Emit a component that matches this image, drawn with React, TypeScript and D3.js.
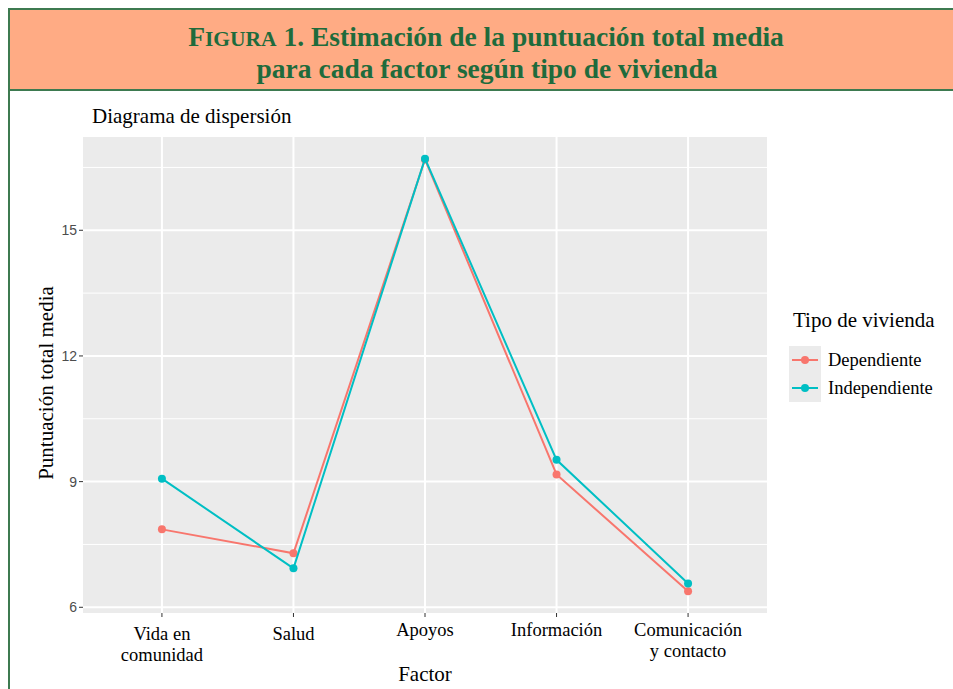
import React from "react";
import * as d3 from "d3";

const categories = ["Vida en comunidad", "Salud", "Apoyos", "Información", "Comunicación y contacto"];
// tick labels as they are broken over lines in the picture
const tickLines = [["Vida en", "comunidad"], ["Salud"], ["Apoyos"], ["Información"], ["Comunicación", "y contacto"]];
const dependiente = [7.86, 7.29, 16.69, 9.17, 6.38];
const independiente = [9.07, 6.93, 16.71, 9.52, 6.57];
const yTicks = [6, 9, 12, 15];
const yMinor = [7.5, 10.5, 13.5, 16.5];

const series = [
  { name: "Dependiente", values: dependiente, color: "#F8766D" },
  { name: "Independiente", values: independiente, color: "#00BFC4" },
];

const W = 953;
const H = 689;
const panel = { left: 83, right: 767, top: 137, bottom: 613 };
const serif = "'Liberation Serif', 'DejaVu Serif', serif";
const sans = "'Liberation Sans', Arial, sans-serif";
const green = "#1f6b3c";

export default function App() {
  const all = [...dependiente, ...independiente];
  const lo = d3.min(all)!;
  const hi = d3.max(all)!;
  const pad = (hi - lo) * 0.05;

  const x = d3
    .scalePoint<string>()
    .domain(categories)
    .range([panel.left, panel.right])
    .padding(0.6);

  const y = d3
    .scaleLinear()
    .domain([lo - pad, hi + pad])
    .range([panel.bottom, panel.top]);

  const line = d3
    .line<number>()
    .x((_, i) => x(categories[i])!)
    .y((d) => y(d));

  return (
    <svg
      width={W}
      height={H}
      style={{ position: "absolute", left: 0, top: 0, background: "#fff" }}
    >
      {/* header band */}
      <rect x={9} y={9} width={W} height={81} fill="#FFAB84" stroke="#3d7a50" strokeWidth={2} />
      <line x1={9} x2={9} y1={90} y2={H} stroke="#3d7a50" strokeWidth={2} />
      <text x={486} y={46} textAnchor="middle" fill={green} fontFamily={serif} fontWeight="bold" fontSize={27.5}>
        F<tspan fontSize={21.5}>IGURA</tspan> 1. Estimación de la puntuación total media
      </text>
      <text x={487} y={78} textAnchor="middle" fill={green} fontFamily={serif} fontWeight="bold" fontSize={27.5}>
        para cada factor según tipo de vivienda
      </text>

      <text x={92} y={123} fontFamily={serif} fontSize={21} fill="#000">
        Diagrama de dispersión
      </text>

      {/* panel */}
      <rect
        x={panel.left}
        y={panel.top}
        width={panel.right - panel.left}
        height={panel.bottom - panel.top}
        fill="#EBEBEB"
      />
      {yMinor.map((t) => (
        <line key={`m${t}`} x1={panel.left} x2={panel.right} y1={y(t)} y2={y(t)} stroke="#fff" strokeWidth={1} />
      ))}
      {yTicks.map((t) => (
        <line key={`g${t}`} x1={panel.left} x2={panel.right} y1={y(t)} y2={y(t)} stroke="#fff" strokeWidth={2} />
      ))}
      {categories.map((c) => (
        <line key={`v${c}`} x1={x(c)} x2={x(c)} y1={panel.top} y2={panel.bottom} stroke="#fff" strokeWidth={2} />
      ))}

      {series.map((s) => (
        <g key={s.name}>
          <path d={line(s.values)!} fill="none" stroke={s.color} strokeWidth={2} />
          {s.values.map((v, i) => (
            <circle key={i} cx={x(categories[i])} cy={y(v)} r={4} fill={s.color} />
          ))}
        </g>
      ))}

      {/* y axis */}
      {yTicks.map((t) => (
        <g key={`yt${t}`}>
          <line x1={panel.left - 4} x2={panel.left} y1={y(t)} y2={y(t)} stroke="#333" strokeWidth={1} />
          <text x={panel.left - 6} y={y(t)} dy="0.35em" textAnchor="end" fontFamily={sans} fontSize={14} fill="#4D4D4D">
            {t}
          </text>
        </g>
      ))}
      <text
        transform={`translate(53,383) rotate(-90)`}
        textAnchor="middle"
        fontFamily={serif}
        fontSize={21}
        fill="#000"
      >
        Puntuación total media
      </text>

      {/* x axis */}
      {categories.map((c, i) => (
        <g key={`xt${c}`}>
          <line x1={x(c)} x2={x(c)} y1={panel.bottom} y2={panel.bottom + 4} stroke="#333" strokeWidth={1} />
          {tickLines[i].map((l, j) => (
            <text
              key={j}
              x={x(c)}
              y={(i < 2 ? 640 : 636) + j * 21}
              textAnchor="middle"
              fontFamily={serif}
              fontSize={18.5}
              fill="#000"
            >
              {l}
            </text>
          ))}
        </g>
      ))}
      <text x={x("Apoyos")} y={681} textAnchor="middle" fontFamily={serif} fontSize={21} fill="#000">
        Factor
      </text>

      {/* legend */}
      <text x={793} y={327} fontFamily={serif} fontSize={21} fill="#000">
        Tipo de vivienda
      </text>
      {series.map((s, i) => {
        const cy = 360 + i * 28;
        return (
          <g key={`lg${s.name}`}>
            <rect x={789} y={cy - 14} width={32} height={28} fill="#EBEBEB" />
            <line x1={792} x2={818} y1={cy} y2={cy} stroke={s.color} strokeWidth={2} />
            <circle cx={805} cy={cy} r={4} fill={s.color} />
            <text x={828} y={cy} dy="0.35em" fontFamily={serif} fontSize={18.5} fill="#000">
              {s.name}
            </text>
          </g>
        );
      })}
    </svg>
  );
}
